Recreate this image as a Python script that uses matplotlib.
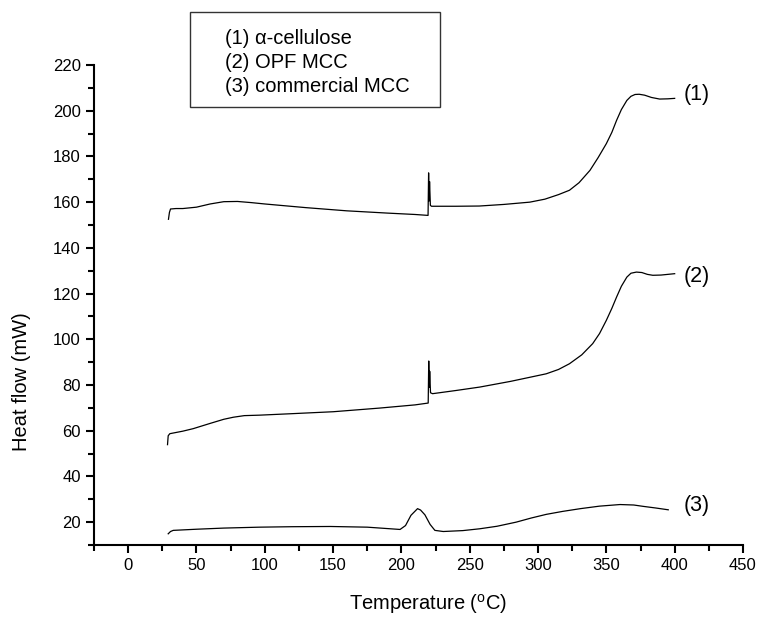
import numpy as np
import matplotlib.pyplot as plt
from matplotlib.patches import Rectangle
from matplotlib.ticker import MultipleLocator

plt.rcParams['font.family'] = ['Liberation Sans', 'DejaVu Sans']
plt.rcParams['mathtext.fontset'] = 'custom'
plt.rcParams['mathtext.rm'] = 'Liberation Sans'

# DSC curves (temperature in degC, heat flow in mW)
t1 = [29.5, 30.2, 31, 35, 40, 50, 60, 70, 80, 90, 100, 130, 160, 190, 210,
      219.5, 219.9, 220.3, 220.6, 221.2, 222, 240, 257, 275, 294, 305, 315,
      323, 330, 338, 344, 350, 354, 357.5, 361, 365, 368, 371, 374, 378, 383,
      389, 395, 400]
y1 = [152.5, 155.5, 157, 157.2, 157.2, 157.8, 159.2, 160.2, 160.3, 159.8,
      159.2, 157.6, 156.2, 155.2, 154.6, 154.2, 172.8, 160.5, 169, 158.6,
      158.2, 158.2, 158.3, 159.0, 160.0, 161.3, 163.3, 165.2, 168.5, 173.9,
      179.5, 185.6, 190.5, 195.8, 200.5, 204.5, 206.3, 207.1, 207.2, 206.8,
      205.8, 205.1, 205.2, 205.4]

t2 = [28.8, 29.3, 30.5, 40, 47.6, 60, 70, 77, 85, 96, 118, 150, 184, 210,
      219.6, 220.0, 220.4, 220.7, 221.3, 222.8, 240, 257.4, 280, 306, 315,
      323, 332, 340, 345, 350, 354, 357.5, 361, 365, 368, 372, 376, 380, 384,
      390, 395, 400]
y2 = [53.9, 57.8, 58.7, 59.8, 60.9, 63.2, 65.0, 65.9, 66.6, 66.8, 67.4,
      68.3, 69.9, 71.3, 72.1, 90.5, 79, 86, 76.6, 76.2, 77.6, 79.1, 81.6,
      84.9, 86.8, 89.3, 93.2, 98.1, 102.5, 108.3, 113.5, 118.5, 123.2, 127.2,
      128.9, 129.4, 129.2, 128.4, 128.0, 128.1, 128.4, 128.7]

t3 = [29.3, 31, 33, 50, 70, 96, 120, 148, 175, 199, 203, 207, 211.8, 214,
      217.2, 221, 224.5, 230.6, 245, 257.4, 270, 284, 295, 306, 318, 331,
      345, 360, 370, 377, 386, 395.3]
y3 = [14.9, 15.9, 16.4, 16.9, 17.4, 17.8, 18.0, 18.1, 17.8, 16.8, 18.5,
      23.0, 25.9, 25.3, 23.2, 19.0, 16.4, 15.9, 16.3, 17.1, 18.2, 20.0, 21.8,
      23.4, 24.7, 25.9, 27.0, 27.7, 27.5, 26.9, 26.2, 25.4]

series = [(t1, y1, '(1)', 207.2), (t2, y2, '(2)', 127.5), (t3, y3, '(3)', 27.3)]
legend_lines = ['(1) \u03b1-cellulose', '(2) OPF MCC', '(3) commercial MCC']

fig = plt.figure(figsize=(7.6, 6.22), dpi=100)
ax = fig.add_axes([0.1237, 0.1238, 0.8539, 0.7717])

for t, y, lab, ylab in series:
    ax.plot(t, y, color='black', linewidth=0.9)
    ax.text(406.5, ylab, lab, fontsize=15.5, va='center', ha='left')

ax.set_xlim(-25, 450)
ax.set_ylim(10, 220)
ax.xaxis.set_major_locator(MultipleLocator(50))
ax.xaxis.set_minor_locator(MultipleLocator(25))
ax.yaxis.set_major_locator(MultipleLocator(20))
ax.yaxis.set_minor_locator(MultipleLocator(10))
ax.set_yticks(np.arange(20, 221, 20))

for side in ['top', 'right']:
    ax.spines[side].set_visible(False)
for side in ['left', 'bottom']:
    ax.spines[side].set_linewidth(1.5)

ax.tick_params(which='major', direction='out', length=6, width=1.5, labelsize=12)
ax.tick_params(which='minor', direction='out', length=4, width=1.5)

ax.set_xlabel(r'Temperature ($^{\rm o}$C)', fontsize=14.5)
ax.set_ylabel('Heat flow (mW)', fontsize=14.5)
ax.xaxis.set_label_coords(0.514, -0.098)
ax.yaxis.set_label_coords(-0.097, 0.34)

# legend drawn as a plain text box, no line handles
fig.patches.append(Rectangle((0.25, 0.828), 0.329, 0.153, transform=fig.transFigure,
                             fill=False, edgecolor='#333333', linewidth=1.0))
for i, line in enumerate(legend_lines):
    fig.text(0.296, 1 - (39 + 24 * i) / 622, line, fontsize=14.5, va='center', ha='left')

fig.savefig('out.png', dpi=100)
